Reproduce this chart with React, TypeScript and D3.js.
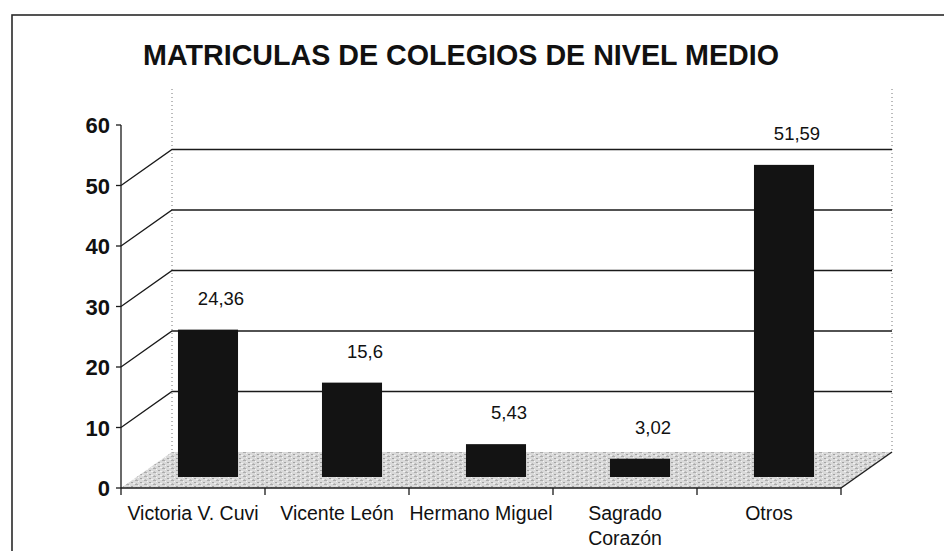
import React from 'react';
import * as d3 from 'd3';

const categories = ['Victoria V. Cuvi', 'Vicente León', 'Hermano Miguel', 'Sagrado\nCorazón', 'Otros'];
const values = [24.36, 15.6, 5.43, 3.02, 51.59];
const valueLabels = ['24,36', '15,6', '5,43', '3,02', '51,59'];
const yTicks = [0, 10, 20, 30, 40, 50, 60];
const title = 'MATRICULAS DE COLEGIOS DE NIVEL MEDIO';

// plot geometry
const left = 121;
const right = 841;
const bottom = 488;
const top = 125;
const depthX = 51; // back wall offset
const depthY = -36;
const barDX = 15; // bars sit partway into the depth
const barDY = -11;

const font = 'Arial, "Liberation Sans", Helvetica, sans-serif';

export default function App() {
  const y = d3.scaleLinear().domain([0, 60]).range([bottom, top]);
  const x = d3.scaleBand<string>().domain(categories).range([left, right])
    .paddingInner(0.583).paddingOuter(0.2915);
  const slot = d3.scaleBand<string>().domain(categories).range([left, right]);
  const tickXs = categories.map(c => slot(c)!).concat([right]);

  const floor = [
    [left, bottom], [left + depthX, bottom + depthY],
    [right + depthX, bottom + depthY], [right, bottom]
  ];

  return (
    <svg width={944} height={551} style={{ position: 'fixed', left: 0, top: 0, background: '#fff' }}>
      <defs>
        <pattern id="speckle" width="9" height="4" patternUnits="userSpaceOnUse">
          <rect width="9" height="4" fill="#d9d9d9" />
          <rect x="0" y="0" width="3" height="1" fill="#ababab" />
          <rect x="5" y="2" width="2" height="1" fill="#a2a2a2" />
          <rect x="3" y="1" width="1" height="1" fill="#f4f4f4" />
          <rect x="7" y="3" width="2" height="1" fill="#f0f0f0" />
          <rect x="1" y="3" width="1" height="1" fill="#bdbdbd" />
        </pattern>
      </defs>

      {/* outer frame */}
      <rect x={12} y={15} width={960} height={560} fill="none" stroke="#2a2a2a" strokeWidth={1.6} />

      <text x={461} y={65} textAnchor="middle" fontFamily={font} fontWeight="bold" fontSize={30}
        textLength={636} lengthAdjust="spacingAndGlyphs" fill="#111">{title}</text>

      {/* back wall edges */}
      <line x1={left + depthX} x2={left + depthX} y1={y(60) + depthY} y2={bottom + depthY}
        stroke="#777" strokeDasharray="1,3" />
      <line x1={right + depthX} x2={right + depthX} y1={y(60) + depthY} y2={bottom + depthY}
        stroke="#777" strokeDasharray="1,3" />

      {/* floor */}
      <polygon points={floor.map(p => p.join(',')).join(' ')} fill="url(#speckle)" />
      <line x1={right} y1={bottom} x2={right + depthX} y2={bottom + depthY} stroke="#222" strokeWidth={1.5} />

      {/* gridlines */}
      {yTicks.filter(t => t > 0 && t < 60).map(t => (
        <polyline key={t}
          points={`${left},${y(t)} ${left + depthX},${y(t) + depthY} ${right + depthX},${y(t) + depthY}`}
          fill="none" stroke="#1a1a1a" strokeWidth={1.3} />
      ))}

      {/* y axis */}
      <line x1={left} x2={left} y1={y(60)} y2={bottom} stroke="#1a1a1a" strokeWidth={1.3} />
      {yTicks.map(t => (
        <g key={t}>
          <line x1={left - 5} x2={left} y1={y(t)} y2={y(t)} stroke="#1a1a1a" strokeWidth={1.3} />
          <text x={110} y={y(t) + 8} textAnchor="end" fontFamily={font} fontWeight="bold"
            fontSize={22} fill="#111">{t}</text>
        </g>
      ))}

      {/* x axis */}
      <line x1={left} x2={right} y1={bottom} y2={bottom} stroke="#1a1a1a" strokeWidth={1.5} />
      {tickXs.map((tx, i) => (
        <line key={i} x1={tx} x2={tx} y1={bottom} y2={bottom + 7} stroke="#1a1a1a" strokeWidth={1.3} />
      ))}

      {/* bars */}
      {categories.map((c, i) => (
        <rect key={c} x={x(c)! + barDX} y={y(values[i]) + barDY} width={x.bandwidth()}
          height={bottom - y(values[i])} fill="#131313" />
      ))}

      {/* value labels */}
      {categories.map((c, i) => (
        <text key={c} x={x(c)! + x.bandwidth() / 2 + barDX + 13} y={y(values[i]) + barDY - 25}
          textAnchor="middle" fontFamily={font} fontSize={18.5} fill="#111">{valueLabels[i]}</text>
      ))}

      {/* category labels */}
      {categories.map(c => (
        <text key={c} textAnchor="middle" fontFamily={font} fontSize={19.5} fill="#111">
          {c.split('\n').map((line, j) => (
            <tspan key={j} x={slot(c)! + slot.bandwidth() / 2} y={520 + j * 25}>{line}</tspan>
          ))}
        </text>
      ))}
    </svg>
  );
}
